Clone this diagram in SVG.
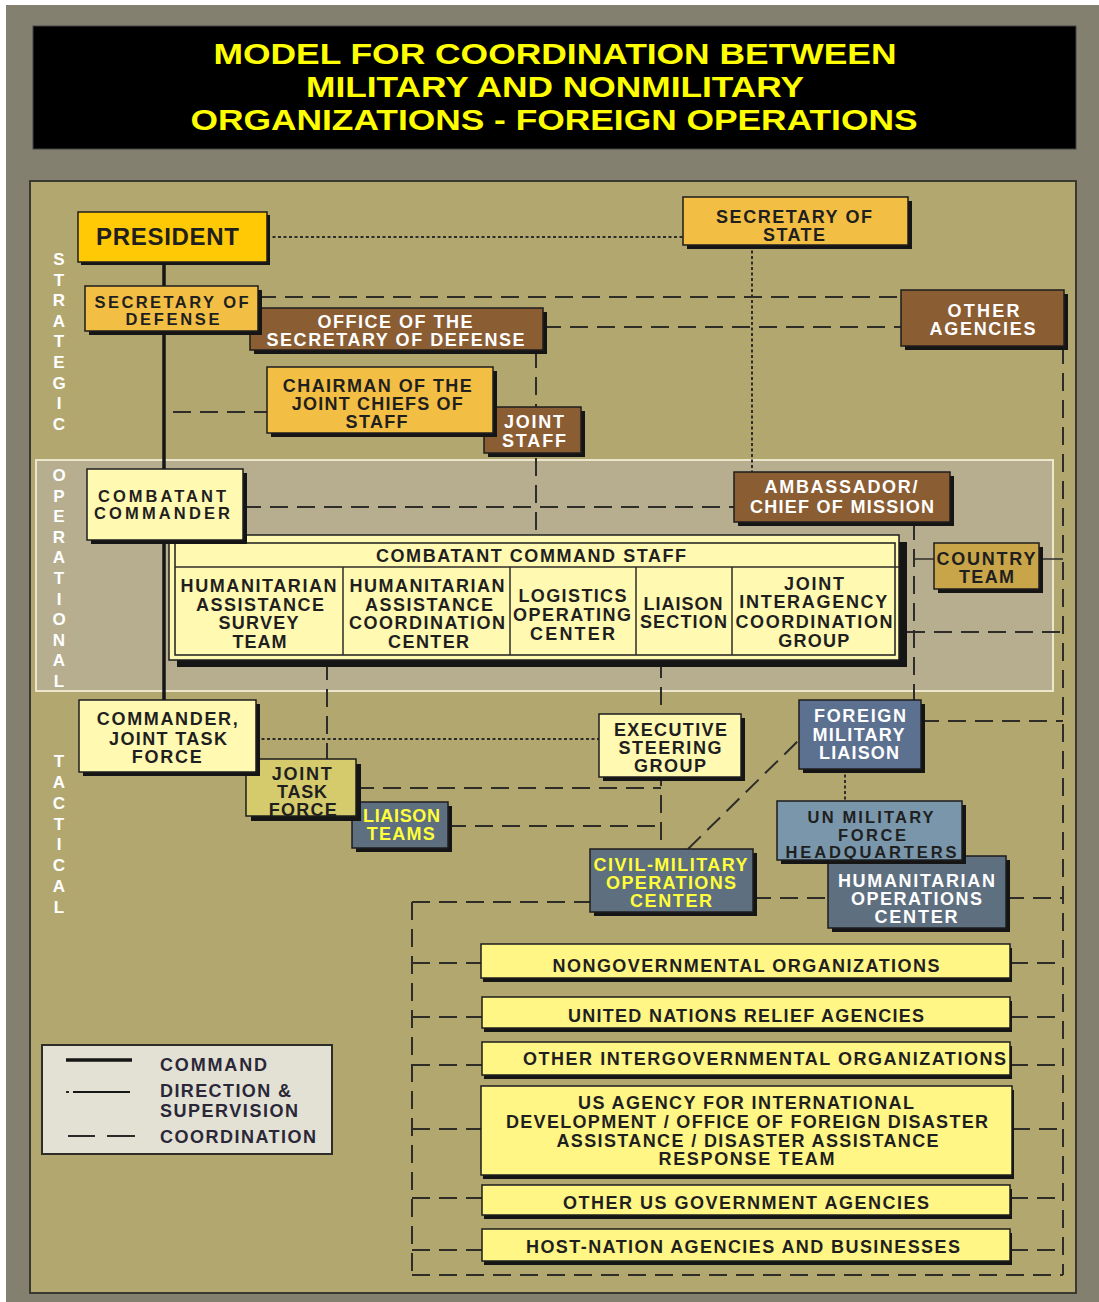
<svg xmlns="http://www.w3.org/2000/svg" width="1099" height="1302" viewBox="0 0 1099 1302">
<style>
.t{font-family:"Liberation Sans",Arial,Helvetica,sans-serif;font-weight:bold;font-size:18px;text-anchor:middle;fill:#1f1f1f}
.s{font-size:16.5px}
.big{font-size:24px}
.w{fill:#ffffff}
.yl{fill:#ffff3a}
.b{stroke:#1e1e1e;stroke-width:1.5}
.sh{fill:#151515}
.pres{fill:#ffca05}
.gold{fill:#f3be44}
.brn{fill:#8a5d33}
.pale{fill:#fff9b2}
.olive{fill:#d5cb6c}
.slate{fill:#5e6f7f}
.blue{fill:#5c7190}
.lblue{fill:#7a96aa}
.ct{fill:#c9a54a}
.lst{fill:#fff685}
.cmd{stroke:#161616;stroke-width:3.5;fill:none}
.co{stroke:#2e2d28;stroke-width:2;stroke-dasharray:18 9;fill:none}
.ds{stroke:#2e2d28;stroke-width:2;stroke-dasharray:3 2.5;fill:none}
.sl{stroke:#2e2d28;stroke-width:1.5;fill:none}
.side{font-family:"Liberation Sans",Arial,sans-serif;font-weight:bold;font-size:17px;fill:#ffffff;text-anchor:middle}
.ttl{font-family:"Liberation Sans",Arial,sans-serif;font-weight:bold;font-size:29px;fill:#ffff00;text-anchor:middle}
.lg{font-family:"Liberation Sans",Arial,sans-serif;font-weight:bold;font-size:18px;fill:#2a2838}
</style>
<rect x="0" y="0" width="1099" height="1302" fill="#ffffff"/>
<rect x="6" y="5" width="1093" height="1297" fill="#838070"/>
<g id="title">
<rect x="33" y="26" width="1043" height="123" fill="#000000" stroke="#444"/>
<text class="ttl" x="555" y="64" textLength="683" lengthAdjust="spacingAndGlyphs">MODEL FOR COORDINATION BETWEEN</text>
<text class="ttl" x="555" y="97" textLength="498" lengthAdjust="spacingAndGlyphs">MILITARY AND NONMILITARY</text>
<text class="ttl" x="554" y="130" textLength="727" lengthAdjust="spacingAndGlyphs">ORGANIZATIONS - FOREIGN OPERATIONS</text>
</g>
<rect x="30" y="181" width="1046" height="1112" fill="#b3a770" stroke="#3a392f" stroke-width="2"/>
<rect x="36" y="460" width="1017" height="231" fill="#b6ae8f" stroke="#ebe6cc" stroke-width="2"/>
<g id="levels">
<text class="side"><tspan x="59" y="265">S</tspan><tspan x="59" y="285.6">T</tspan><tspan x="59" y="306.2">R</tspan><tspan x="59" y="326.8">A</tspan><tspan x="59" y="347.4">T</tspan><tspan x="59" y="368">E</tspan><tspan x="59" y="388.6">G</tspan><tspan x="59" y="409.2">I</tspan><tspan x="59" y="429.8">C</tspan></text>
<text class="side"><tspan x="59" y="481">O</tspan><tspan x="59" y="501.6">P</tspan><tspan x="59" y="522.2">E</tspan><tspan x="59" y="542.8">R</tspan><tspan x="59" y="563.4">A</tspan><tspan x="59" y="584">T</tspan><tspan x="59" y="604.6">I</tspan><tspan x="59" y="625.2">O</tspan><tspan x="59" y="645.8">N</tspan><tspan x="59" y="666.4">A</tspan><tspan x="59" y="687">L</tspan></text>
<text class="side"><tspan x="59" y="767">T</tspan><tspan x="59" y="787.9">A</tspan><tspan x="59" y="808.7">C</tspan><tspan x="59" y="829.6">T</tspan><tspan x="59" y="850.4">I</tspan><tspan x="59" y="871.3">C</tspan><tspan x="59" y="892.2">A</tspan><tspan x="59" y="913">L</tspan></text>
</g>
<g id="connectors">
<line class="cmd" x1="164" y1="262" x2="164" y2="701"/>
<line class="ds" x1="267" y1="237" x2="683" y2="237"/>
<line class="ds" x1="752" y1="245" x2="752" y2="472"/>
<line class="co" x1="258" y1="297" x2="901" y2="297"/>
<line class="co" x1="543" y1="327" x2="901" y2="327"/>
<line class="co" x1="536" y1="350" x2="536" y2="535"/>
<line class="co" x1="173" y1="412" x2="267" y2="412"/>
<line class="co" x1="243" y1="507" x2="734" y2="507"/>
<line class="co" x1="914" y1="522" x2="914" y2="700"/>
<line class="sl" x1="914" y1="559" x2="934" y2="559"/>
<line class="sl" x1="1039" y1="559" x2="1063" y2="559"/>
<line class="co" x1="907" y1="632" x2="1063" y2="632"/>
<line class="co" x1="1063" y1="346" x2="1063" y2="1275"/>
<line class="co" x1="921" y1="721" x2="1063" y2="721"/>
<line class="co" x1="1006" y1="898" x2="1063" y2="898"/>
<line class="co" x1="753" y1="898" x2="828" y2="898"/>
<line class="co" x1="412" y1="902" x2="590" y2="902"/>
<line class="co" x1="412" y1="902" x2="412" y2="1275"/>
<line class="co" x1="412" y1="1275" x2="1063" y2="1275"/>
<line class="co" x1="412" y1="963" x2="481" y2="963"/>
<line class="co" x1="412" y1="1017" x2="482" y2="1017"/>
<line class="co" x1="412" y1="1065" x2="482" y2="1065"/>
<line class="co" x1="412" y1="1129" x2="481" y2="1129"/>
<line class="co" x1="412" y1="1198" x2="482" y2="1198"/>
<line class="co" x1="412" y1="1250" x2="482" y2="1250"/>
<line class="co" x1="1010" y1="963" x2="1063" y2="963"/>
<line class="co" x1="1010" y1="1017" x2="1063" y2="1017"/>
<line class="co" x1="1010" y1="1065" x2="1063" y2="1065"/>
<line class="co" x1="1012" y1="1129" x2="1063" y2="1129"/>
<line class="co" x1="1010" y1="1198" x2="1063" y2="1198"/>
<line class="co" x1="1010" y1="1250" x2="1063" y2="1250"/>
<line class="co" x1="661" y1="660" x2="661" y2="849"/>
<line class="ds" x1="256" y1="739" x2="599" y2="739"/>
<line class="co" x1="356" y1="788" x2="661" y2="788"/>
<line class="co" x1="448" y1="826" x2="661" y2="826"/>
<line class="co" x1="327" y1="662" x2="327" y2="759"/>
<line class="co" x1="688" y1="849" x2="799" y2="740"/>
<line class="ds" x1="845" y1="769" x2="845" y2="801"/>
</g>
<g id="president">
<rect class="sh" x="81" y="215" width="189" height="50"/>
<rect class="pres b" x="78" y="212" width="189" height="50"/>
<text class="t big" x="167.5" y="245" textLength="143">PRESIDENT</text>
</g>
<g id="secretary-of-state">
<rect class="sh" x="687" y="201" width="225" height="48"/>
<rect class="gold b" x="683" y="197" width="225" height="48"/>
<text class="t" x="794" y="223" textLength="156">SECRETARY OF</text>
<text class="t" x="794" y="241" textLength="62">STATE</text>
</g>
<g id="office-secdef">
<rect class="sh" x="254" y="312" width="293" height="42"/>
<rect class="brn b" x="250" y="308" width="293" height="42"/>
<text class="t w" x="395" y="328" textLength="155">OFFICE OF THE</text>
<text class="t w" x="395.5" y="346" textLength="258">SECRETARY OF DEFENSE</text>
</g>
<g id="secretary-of-defense">
<rect class="sh" x="89" y="290" width="173" height="45"/>
<rect class="gold b" x="85" y="286" width="173" height="45"/>
<text class="t s" x="171.5" y="308" textLength="154">SECRETARY OF</text>
<text class="t s" x="172.5" y="325" textLength="94">DEFENSE</text>
</g>
<g id="other-agencies">
<rect class="sh" x="905" y="294" width="163" height="56"/>
<rect class="brn b" x="901" y="290" width="163" height="56"/>
<text class="t w" x="983.5" y="317" textLength="72">OTHER</text>
<text class="t w" x="982.5" y="335" textLength="106">AGENCIES</text>
</g>
<g id="joint-staff">
<rect class="sh" x="488" y="411" width="97" height="46"/>
<rect class="brn b" x="484" y="407" width="97" height="46"/>
<text class="t w" x="534" y="428" textLength="60">JOINT</text>
<text class="t w" x="534" y="447" textLength="64">STAFF</text>
</g>
<g id="cjcs">
<rect class="sh" x="271" y="371" width="226" height="66"/>
<rect class="gold b" x="267" y="367" width="226" height="66"/>
<text class="t" x="377.3" y="392" textLength="189">CHAIRMAN OF THE</text>
<text class="t" x="377.3" y="410" textLength="171">JOINT CHIEFS OF</text>
<text class="t" x="376.6" y="428" textLength="62">STAFF</text>
</g>
<g id="ambassador">
<rect class="sh" x="738" y="476" width="216" height="50"/>
<rect class="brn b" x="734" y="472" width="216" height="50"/>
<text class="t w" x="841" y="493" textLength="153">AMBASSADOR/</text>
<text class="t w" x="842" y="513" textLength="184">CHIEF OF MISSION</text>
</g>
<g id="country-team">
<rect class="sh" x="938" y="547" width="105" height="46"/>
<rect class="ct b" x="934" y="543" width="105" height="46"/>
<text class="t" x="986" y="565" textLength="99">COUNTRY</text>
<text class="t" x="986.5" y="583" textLength="55">TEAM</text>
</g>
<g id="combatant-command-staff">
<rect class="sh" x="177" y="542" width="730" height="125"/>
<rect class="pale b" x="169" y="535" width="730" height="125"/>
<rect class="b" fill="none" x="175" y="543" width="720" height="112"/>
<line class="sl" x1="175" y1="567" x2="899" y2="567"/>
<line class="sl" x1="343" y1="567" x2="343" y2="655"/>
<line class="sl" x1="510" y1="567" x2="510" y2="655"/>
<line class="sl" x1="636" y1="567" x2="636" y2="655"/>
<line class="sl" x1="732" y1="567" x2="732" y2="655"/>
<text class="t" x="531" y="562" textLength="310">COMBATANT COMMAND STAFF</text>
<text class="t" x="258.6" y="592" textLength="156">HUMANITARIAN</text>
<text class="t" x="260" y="611" textLength="128">ASSISTANCE</text>
<text class="t" x="258.6" y="629" textLength="80">SURVEY</text>
<text class="t" x="259.6" y="648" textLength="54">TEAM</text>
<text class="t" x="427" y="592" textLength="155">HUMANITARIAN</text>
<text class="t" x="429" y="611" textLength="128">ASSISTANCE</text>
<text class="t" x="427" y="629" textLength="156">COORDINATION</text>
<text class="t" x="428.6" y="648" textLength="81">CENTER</text>
<text class="t" x="572.5" y="602" textLength="108">LOGISTICS</text>
<text class="t" x="572" y="621" textLength="118">OPERATING</text>
<text class="t" x="572.5" y="640" textLength="85">CENTER</text>
<text class="t" x="683" y="610" textLength="79">LIAISON</text>
<text class="t" x="683.4" y="628" textLength="87">SECTION</text>
<text class="t" x="814" y="590" textLength="60">JOINT</text>
<text class="t" x="813.3" y="608" textLength="148">INTERAGENCY</text>
<text class="t" x="814" y="628" textLength="157">COORDINATION</text>
<text class="t" x="813.7" y="647" textLength="71">GROUP</text>
</g>
<g id="combatant-commander">
<rect class="sh" x="91" y="473" width="156" height="71"/>
<rect class="pale b" x="87" y="469" width="156" height="71"/>
<text class="t s" x="162" y="502" textLength="128">COMBATANT</text>
<text class="t s" x="162" y="519" textLength="136">COMMANDER</text>
</g>
<g id="liaison-teams">
<rect class="sh" x="356" y="806" width="96" height="46"/>
<rect class="slate b" x="352" y="802" width="96" height="46"/>
<text class="t yl" x="401.5" y="822" textLength="77">LIAISON</text>
<text class="t yl" x="400.8" y="840" textLength="68">TEAMS</text>
</g>
<g id="joint-task-force">
<rect class="sh" x="251" y="764" width="110" height="57"/>
<rect class="olive b" x="246" y="759" width="110" height="57"/>
<text class="t" x="301.7" y="780" textLength="60">JOINT</text>
<text class="t" x="302" y="798" textLength="50">TASK</text>
<text class="t" x="302.8" y="816" textLength="68">FORCE</text>
</g>
<g id="commander-jtf">
<rect class="sh" x="83" y="704" width="177" height="72"/>
<rect class="pale b" x="79" y="700" width="177" height="72"/>
<text class="t" x="167.3" y="725" textLength="141">COMMANDER,</text>
<text class="t" x="168" y="745" textLength="118">JOINT TASK</text>
<text class="t" x="166.7" y="763" textLength="70">FORCE</text>
</g>
<g id="executive-steering-group">
<rect class="sh" x="603" y="718" width="142" height="63"/>
<rect class="pale b" x="599" y="714" width="142" height="63"/>
<text class="t" x="670.4" y="736" textLength="113">EXECUTIVE</text>
<text class="t" x="670" y="754" textLength="103">STEERING</text>
<text class="t" x="670" y="772" textLength="72">GROUP</text>
</g>
<g id="foreign-military-liaison">
<rect class="sh" x="803" y="704" width="122" height="69"/>
<rect class="blue b" x="799" y="700" width="122" height="69"/>
<text class="t w" x="860" y="722" textLength="92">FOREIGN</text>
<text class="t w" x="858.5" y="741" textLength="92">MILITARY</text>
<text class="t w" x="859" y="759" textLength="80">LIAISON</text>
</g>
<g id="humanitarian-operations-center">
<rect class="sh" x="832" y="860" width="178" height="72"/>
<rect class="slate b" x="828" y="856" width="178" height="72"/>
<text class="t w" x="916.4" y="887" textLength="157">HUMANITARIAN</text>
<text class="t w" x="916.5" y="905" textLength="131">OPERATIONS</text>
<text class="t w" x="916" y="923" textLength="83">CENTER</text>
</g>
<g id="un-military-force-hq">
<rect class="sh" x="781" y="805" width="185" height="59"/>
<rect class="lblue b" x="777" y="801" width="185" height="59"/>
<text class="t s" x="870.6" y="823" textLength="126">UN MILITARY</text>
<text class="t s" x="872" y="841" textLength="68">FORCE</text>
<text class="t s" x="871" y="858" textLength="171">HEADQUARTERS</text>
</g>
<g id="cmoc">
<rect class="sh" x="594" y="853" width="163" height="63"/>
<rect class="slate b" x="590" y="849" width="163" height="63"/>
<text class="t yl" x="670.6" y="871" textLength="154">CIVIL-MILITARY</text>
<text class="t yl" x="671" y="889" textLength="130">OPERATIONS</text>
<text class="t yl" x="671" y="907" textLength="82">CENTER</text>
</g>
<g id="ngo">
<rect class="sh" x="483" y="948" width="529" height="34"/>
<rect class="lst b" x="481" y="944" width="529" height="34"/>
<text class="t" x="746" y="972" textLength="387">NONGOVERNMENTAL ORGANIZATIONS</text>
</g>
<g id="un-relief">
<rect class="sh" x="484" y="1001" width="528" height="31"/>
<rect class="lst b" x="482" y="997" width="528" height="31"/>
<text class="t" x="746" y="1022" textLength="356">UNITED NATIONS RELIEF AGENCIES</text>
</g>
<g id="other-igo">
<rect class="sh" x="484" y="1046" width="528" height="33"/>
<rect class="lst b" x="482" y="1042" width="528" height="33"/>
<text class="t" x="764.5" y="1065" textLength="483">OTHER INTERGOVERNMENTAL ORGANIZATIONS</text>
</g>
<g id="usaid">
<rect class="sh" x="483" y="1090" width="531" height="89"/>
<rect class="lst b" x="481" y="1086" width="531" height="89"/>
<text class="t" x="746" y="1109" textLength="336">US AGENCY FOR INTERNATIONAL</text>
<text class="t" x="747" y="1128" textLength="482">DEVELOPMENT / OFFICE OF FOREIGN DISASTER</text>
<text class="t" x="747.5" y="1147" textLength="382">ASSISTANCE / DISASTER ASSISTANCE</text>
<text class="t" x="746.5" y="1165" textLength="176">RESPONSE TEAM</text>
</g>
<g id="other-usg">
<rect class="sh" x="484" y="1189" width="528" height="30"/>
<rect class="lst b" x="482" y="1185" width="528" height="30"/>
<text class="t" x="746" y="1209" textLength="366">OTHER US GOVERNMENT AGENCIES</text>
</g>
<g id="host-nation">
<rect class="sh" x="484" y="1233" width="528" height="32"/>
<rect class="lst b" x="482" y="1229" width="528" height="32"/>
<text class="t" x="743" y="1253" textLength="434">HOST-NATION AGENCIES AND BUSINESSES</text>
</g>
<g id="legend">
<rect x="42" y="1045" width="290" height="109" fill="#e3e0d4" stroke="#2e2d28" stroke-width="2"/>
<line x1="66" y1="1060" x2="132" y2="1060" stroke="#161616" stroke-width="3.5"/>
<line x1="66" y1="1092" x2="69" y2="1092" stroke="#161616" stroke-width="1.8"/>
<line x1="73" y1="1092" x2="130" y2="1092" stroke="#161616" stroke-width="1.8"/>
<line x1="68" y1="1136" x2="95" y2="1136" stroke="#161616" stroke-width="1.8"/>
<line x1="107" y1="1136" x2="135" y2="1136" stroke="#161616" stroke-width="1.8"/>
<text class="lg" x="160" y="1071" textLength="107">COMMAND</text>
<text class="lg" x="160" y="1097" textLength="131">DIRECTION &amp;</text>
<text class="lg" x="160" y="1117" textLength="138">SUPERVISION</text>
<text class="lg" x="160" y="1143" textLength="156">COORDINATION</text>
</g>
</svg>
